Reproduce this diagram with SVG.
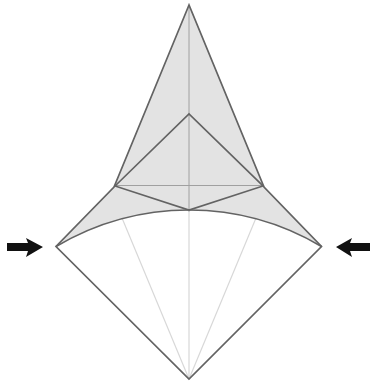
<svg xmlns="http://www.w3.org/2000/svg" width="371" height="388" viewBox="0 0 371 388">
<style>
.fill{fill:#e3e3e3;stroke:none}
.edge{fill:none;stroke:#636363;stroke-width:1.7}
.crease{fill:none;stroke:#a0a0a0;stroke-width:1}
.faint{fill:none;stroke:#d8d8d8;stroke-width:1.2}
.arrow{fill:#111;stroke:none}
</style>
<rect width="371" height="388" fill="#fff"/>
<path class="fill" d="M189 5L264 187L321.500 246.500Q260 210 189 210Q118 210 56 246.500L114 187Z"/>
<g id="creases">
<path class="faint" d="M189 212V379M122 218L189 379M256 218L189 379"/>
<path class="crease" d="M189 5V212M115 185.500H263"/>
</g>
<g id="connectors">
<path class="edge" d="M189 5L114 187L56 246.500L189 379L321.500 246.500L264 187Z"/>
<path class="edge" d="M56 246.500Q118 210 189 210Q260 210 321.500 246.500"/>
<path class="edge" d="M115 186L189 114L263 186L189 210Z"/>
</g>
<g id="arrow-left"><path class="arrow" d="M7 243H28L26 238L43 247L26 257L28 251H7Z"/></g>
<g id="arrow-right"><path class="arrow" d="M370 243H350L352 238L336 247L352 257L350 251H370Z"/></g>
</svg>
